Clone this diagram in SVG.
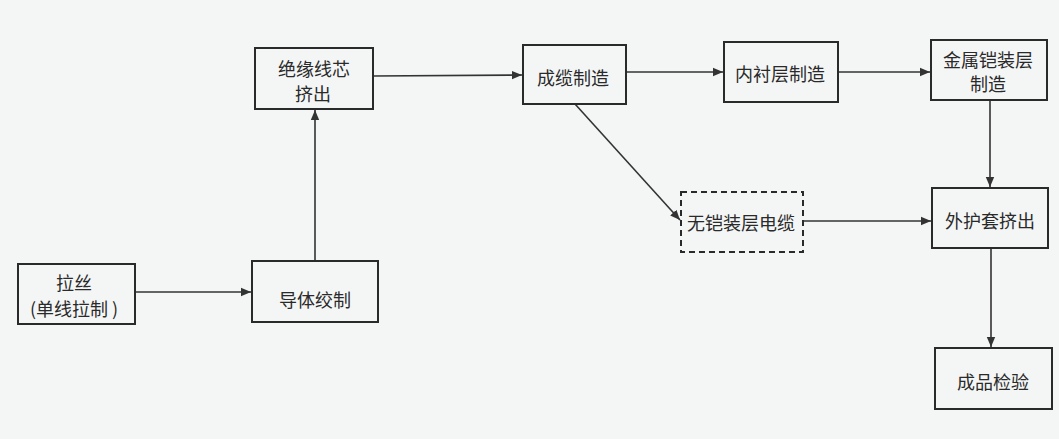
<svg xmlns="http://www.w3.org/2000/svg" width="1059" height="439" viewBox="0 0 1059 439">
<style>
.box{fill:none;stroke:#2a2a2a;stroke-width:2}
.dash{fill:none;stroke:#2a2a2a;stroke-width:2;stroke-dasharray:6 4}
.lbl{font-family:"Noto Sans CJK SC","Noto Sans",sans-serif;font-size:18px;fill:#2a2a2a;text-anchor:middle;dominant-baseline:central}
.edge{fill:none;stroke:#333;stroke-width:1.6;marker-end:url(#arr)}
</style>
<defs>
<marker id="arr" markerUnits="userSpaceOnUse" markerWidth="12" markerHeight="10" refX="10" refY="5" orient="auto">
<path d="M0,0.8 L10,5 L0,9.2 Z" fill="#333"/>
</marker>
</defs>
<rect x="0" y="0" width="1059" height="439" fill="#f4f6f6"/>
<g id="connectors">
<line class="edge" x1="135" y1="292" x2="251" y2="292"/>
<line class="edge" x1="315" y1="261" x2="315" y2="110"/>
<line class="edge" x1="373" y1="76" x2="522" y2="75"/>
<line class="edge" x1="626" y1="72" x2="723" y2="72"/>
<line class="edge" x1="838" y1="72" x2="930" y2="72"/>
<line class="edge" x1="575" y1="104" x2="680" y2="220"/>
<line class="edge" x1="803" y1="221" x2="931" y2="221"/>
<line class="edge" x1="990" y1="100" x2="990" y2="187"/>
<line class="edge" x1="991" y1="248" x2="991" y2="347"/>
</g>
<g id="n_lasi">
<rect class="box" x="18" y="264" width="117" height="60"/>
<text class="lbl" x="74" y="282">拉丝</text>
<text class="lbl" x="74" y="308">(单线拉制 )</text>
</g>
<g id="n_daoti">
<rect class="box" x="252" y="261" width="126" height="61"/>
<text class="lbl" x="315" y="299">导体绞制</text>
</g>
<g id="n_jueyuan">
<rect class="box" x="255" y="48" width="118" height="61"/>
<text class="lbl" x="314" y="68">绝缘线芯</text>
<text class="lbl" x="313" y="93">挤出</text>
</g>
<g id="n_chenglan">
<rect class="box" x="523" y="45" width="103" height="59"/>
<text class="lbl" x="573" y="77">成缆制造</text>
</g>
<g id="n_neichen">
<rect class="box" x="724" y="42" width="114" height="60"/>
<text class="lbl" x="780" y="73">内衬层制造</text>
</g>
<g id="n_jinshu">
<rect class="box" x="931" y="40" width="116" height="60"/>
<text class="lbl" x="988" y="59">金属铠装层</text>
<text class="lbl" x="988" y="83">制造</text>
</g>
<g id="n_wukai">
<rect class="dash" x="681" y="192" width="122" height="60"/>
<text class="lbl" x="741" y="222">无铠装层电缆</text>
</g>
<g id="n_waihu">
<rect class="box" x="932" y="188" width="116" height="60"/>
<text class="lbl" x="990" y="220">外护套挤出</text>
</g>
<g id="n_chengpin">
<rect class="box" x="935" y="348" width="117" height="61"/>
<text class="lbl" x="993" y="381">成品检验</text>
</g>
</svg>
